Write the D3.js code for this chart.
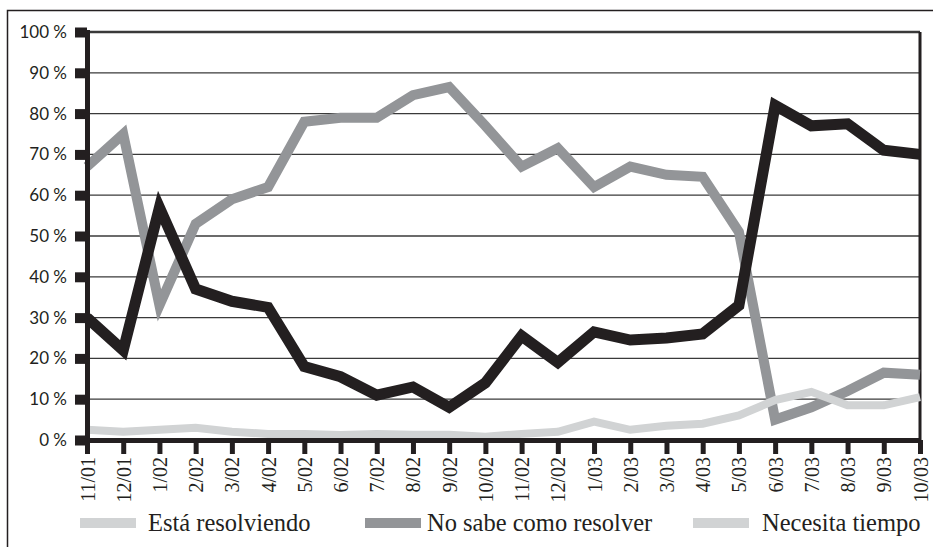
<!DOCTYPE html>
<html>
<head>
<meta charset="utf-8">
<script src="https://cdn.jsdelivr.net/npm/d3@7"></script>
<style>
  body { margin: 0; background: #fff; }
  svg { display: block; }
  .serif { font-family: 'Liberation Serif', 'DejaVu Serif', serif; }
  .sans { font-family: Lato, 'Open Sans', sans-serif; }
</style>
</head>
<body>
<svg id="chart" width="933" height="547"></svg>
<script>
const months = ['11/01', '12/01', '1/02', '2/02', '3/02', '4/02', '5/02', '6/02', '7/02', '8/02', '9/02', '10/02',
  '11/02', '12/02', '1/03', '2/03', '3/03', '4/03', '5/03', '6/03', '7/03', '8/03', '9/03', '10/03'];

const yTicks = [0, 10, 20, 30, 40, 50, 60, 70, 80, 90, 100];

// black line
const seriesBlack = [30, 22, 57, 37, 34, 32.5, 18, 15.5, 11, 13, 8, 14, 25.5, 19, 26.5, 24.5, 25, 26, 33, 82, 77, 77.5, 71, 70];
// mid grey line
const seriesGrey = [67, 75, 33, 53, 59, 62, 78, 79, 79, 84.5, 86.5, 77, 67, 71.5, 62, 67, 65, 64.5, 51, 5, 8, 12, 16.5, 16];
// light grey line
const seriesLight = [2.5, 2, 2.5, 3, 2, 1.5, 1.5, 1.2, 1.5, 1.3, 1.3, 0.8, 1.5, 2, 4.5, 2.5, 3.5, 4, 6, 9.8, 11.8, 8.5, 8.5, 10.5];

const legendLabels = ['Está resolviendo', 'No sabe como resolver', 'Necesita tiempo'];
const legendColors = ['#d1d3d4', '#939598', '#d1d3d4'];

const svg = d3.select('#chart');

const margin = { top: 32, right: 13, bottom: 107, left: 87 };
const width = 933 - margin.left - margin.right;
const height = 547 - margin.top - margin.bottom;

// outer frame
svg.append('rect')
  .attr('x', 7.5)
  .attr('y', 10.5)
  .attr('width', 940)
  .attr('height', 560)
  .attr('fill', 'none')
  .attr('stroke', '#231f20')
  .attr('stroke-width', 1.5);

const x = d3.scalePoint().domain(months).range([0, width]);
const y = d3.scaleLinear().domain([0, 100]).range([height, 0]);

const g = svg.append('g')
  .attr('transform', `translate(${margin.left},${margin.top})`);

// grid
g.selectAll('.grid')
  .data(yTicks.filter((d) => d > 0))
  .enter()
  .append('line')
  .attr('class', 'grid')
  .attr('x1', 0)
  .attr('x2', width)
  .attr('y1', (d) => y(d))
  .attr('y2', (d) => y(d))
  .attr('stroke', '#3a3a3a')
  .attr('stroke-width', (d) => (d === 100 ? 2.5 : 1.3));

// right edge
g.append('line')
  .attr('x1', width)
  .attr('x2', width)
  .attr('y1', 0)
  .attr('y2', height)
  .attr('stroke', '#231f20')
  .attr('stroke-width', 3);

const line = d3.line()
  .x((d, i) => x(months[i]))
  .y((d) => y(d));

g.append('path')
  .datum(seriesGrey)
  .attr('fill', 'none')
  .attr('stroke', '#939598')
  .attr('stroke-width', 10)
  .attr('d', line);

g.append('path')
  .datum(seriesLight)
  .attr('fill', 'none')
  .attr('stroke', '#d1d3d4')
  .attr('stroke-width', 8)
  .attr('d', line);

g.append('path')
  .datum(seriesBlack)
  .attr('fill', 'none')
  .attr('stroke', '#231f20')
  .attr('stroke-width', 11)
  .attr('d', line);

// y axis with square ticks
const yAxis = g.append('g')
  .call(d3.axisLeft(y).tickValues(yTicks).tickSize(12).tickPadding(8).tickFormat((d) => d + ' %'));
yAxis.attr('font-family', null).attr('font-size', null);
yAxis.select('.domain')
  .attr('stroke', '#231f20')
  .attr('stroke-width', 5);
yAxis.selectAll('.tick line')
  .attr('stroke', '#231f20')
  .attr('stroke-width', 10);
yAxis.selectAll('text')
  .attr('class', 'sans')
  .attr('fill', '#231f20')
  .style('font-size', '17px');

// x axis
const xAxis = g.append('g')
  .attr('transform', `translate(0,${height})`)
  .call(d3.axisBottom(x).tickSize(14).tickSizeOuter(0));
xAxis.attr('font-family', null).attr('font-size', null);
xAxis.select('.domain')
  .attr('stroke', '#231f20')
  .attr('stroke-width', 5);
xAxis.selectAll('.tick line')
  .attr('stroke', '#231f20')
  .attr('stroke-width', 5);
xAxis.selectAll('text')
  .attr('class', 'serif')
  .attr('fill', '#231f20')
  .style('font-size', '20px')
  .style('text-anchor', 'end')
  .attr('transform', 'rotate(-90)')
  .attr('x', -17)
  .attr('y', 0)
  .attr('dy', '0.35em');

// legend
const legendX = [80, 365, 693];
const legendTextX = [148, 427, 762];
const legend = svg.append('g');
legendLabels.forEach((label, i) => {
  legend.append('rect')
    .attr('x', legendX[i])
    .attr('y', 518)
    .attr('width', 56)
    .attr('height', 10)
    .attr('fill', legendColors[i]);
  legend.append('text')
    .attr('class', 'serif')
    .attr('x', legendTextX[i])
    .attr('y', 531)
    .attr('fill', '#231f20')
    .style('font-size', '24.5px')
    .text(label);
});
</script>
</body>
</html>
